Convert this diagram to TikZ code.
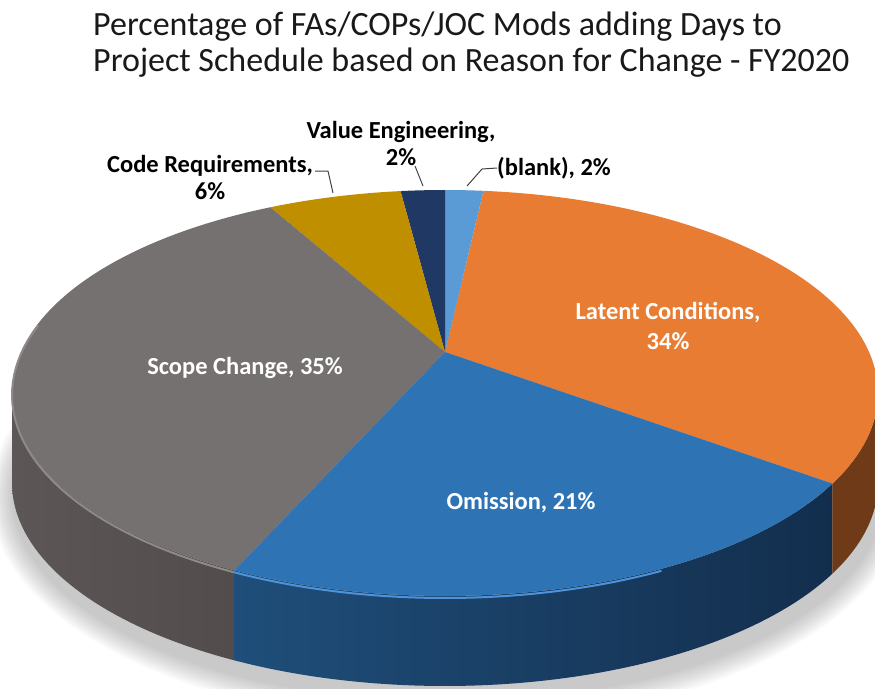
\documentclass[tikz,border=0pt]{standalone}
\usepackage{fontspec}
\setmainfont{Carlito}
\definecolor{cLatent}{HTML}{E97C33}
\definecolor{cLatentS}{HTML}{6E3A17}
\definecolor{cOmis}{HTML}{2E74B5}
\definecolor{cOmisSL}{HTML}{1F4E7A}
\definecolor{cOmisSR}{HTML}{132E4D}
\definecolor{cOmisHi}{HTML}{4C93DC}
\definecolor{cScope}{HTML}{767171}
\definecolor{cScopeSL}{HTML}{5C5756}
\definecolor{cScopeSR}{HTML}{524D4C}
\definecolor{cScopeHi}{HTML}{8E8A89}
\definecolor{cCode}{HTML}{BF8F00}
\definecolor{cVE}{HTML}{203864}
\definecolor{cBlank}{HTML}{5B9BD5}
\begin{document}
\begin{tikzpicture}[x=1pt,y=-1pt,
  blacklbl/.style={font=\fontsize{24.5}{27}\selectfont\bfseries, text=black, align=center, inner sep=0pt},
  whitelbl/.style={font=\fontsize{24.5}{30}\selectfont\bfseries, text=white, align=center, inner sep=0pt},
  titlelbl/.style={font=\fontsize{34}{37}\selectfont, text=black!90, anchor=base west, inner sep=0pt},
  leader/.style={draw=black!75, line width=1pt}]
\useasboundingbox (0,0) rectangle (875,688);
\def\cx{445}\def\cy{393}\def\ra{433}\def\rb{203}\def\dep{90}
\coordinate (apex) at (445,352);
% soft shadow
\foreach \i in {0,...,11}
  \fill[black, opacity=0.018] (448,496) ellipse ({436+2*\i} and {206+2*\i});
% side walls
\shade[left color=cScopeSL, right color=cScopeSR]
  plot[domain=180:240.9,samples=40] ({\cx+\ra*cos(\x)},{\cy-\rb*sin(\x)})
  -- plot[domain=240.9:180,samples=40] ({\cx+\ra*cos(\x)},{\cy+\dep-\rb*sin(\x)}) -- cycle;
\shade[left color=cOmisSL, right color=cOmisSR]
  plot[domain=240.9:333.5,samples=60] ({\cx+\ra*cos(\x)},{\cy-\rb*sin(\x)})
  -- plot[domain=333.5:240.9,samples=60] ({\cx+\ra*cos(\x)},{\cy+\dep-\rb*sin(\x)}) -- cycle;
\fill[cLatentS]
  plot[domain=333.5:360,samples=30] ({\cx+\ra*cos(\x)},{\cy-\rb*sin(\x)})
  -- plot[domain=360:333.5,samples=30] ({\cx+\ra*cos(\x)},{\cy+\dep-\rb*sin(\x)}) -- cycle;
% top faces
\fill[cLatent] (apex) -- plot[domain=-26.5:84.9,samples=80] ({\cx+\ra*cos(\x)},{\cy-\rb*sin(\x)}) -- cycle;
\fill[cBlank] (apex) -- plot[domain=84.9:90,samples=10] ({\cx+\ra*cos(\x)},{\cy-\rb*sin(\x)}) -- cycle;
\fill[cVE] (apex) -- plot[domain=90:95.9,samples=10] ({\cx+\ra*cos(\x)},{\cy-\rb*sin(\x)}) -- cycle;
\fill[cCode] (apex) -- plot[domain=95.9:113.8,samples=20] ({\cx+\ra*cos(\x)},{\cy-\rb*sin(\x)}) -- cycle;
\fill[cScope] (apex) -- plot[domain=113.8:240.9,samples=80] ({\cx+\ra*cos(\x)},{\cy-\rb*sin(\x)}) -- cycle;
\fill[cOmis] (apex) -- plot[domain=240.9:333.5,samples=60] ({\cx+\ra*cos(\x)},{\cy-\rb*sin(\x)}) -- cycle;
% bevel highlights
\draw[cScopeHi, line width=2pt] plot[domain=160:240.9,samples=40] ({\cx+\ra*cos(\x)},{\cy+2-\rb*sin(\x)});
\draw[cOmisHi, line width=2pt] plot[domain=240.9:300,samples=40] ({\cx+\ra*cos(\x)},{\cy+2-\rb*sin(\x)});
% title
\node[titlelbl] (title1) at (93,35) {Percentage of FAs/COPs/JOC Mods adding Days to};
\node[titlelbl] (title2) at (93,71) {Project Schedule based on Reason for Change - FY2020};
% outside labels
\node[blacklbl] (codeLbl) at (210,178) {Code Requirements,\\6\%};
\node[blacklbl] (veLbl) at (401,144) {Value Engineering,\\2\%};
\node[blacklbl, anchor=west] (blankLbl) at (497,168) {(blank), 2\%};
\coordinate (codeTip) at (333,193);
\coordinate (veTip) at (423,186);
\coordinate (blankTip) at (467,186);
\coordinate (codeBend) at (328,171);
\coordinate (blankBend) at (482,169);
\draw[leader] (codeLbl.east |- codeBend) ++(2,0) -- (codeBend) -- (codeTip);
\draw[leader] (415,166) -- (veTip);
\draw[leader] (blankLbl.west) -- (blankBend) -- (blankTip);
% inside labels
\node[whitelbl] (latLbl) at (668,326) {Latent Conditions,\\34\%};
\node[whitelbl] (scopeLbl) at (245,368) {Scope Change, 35\%};
\node[whitelbl] (omLbl) at (521,503) {Omission, 21\%};
\end{tikzpicture}
\end{document}
